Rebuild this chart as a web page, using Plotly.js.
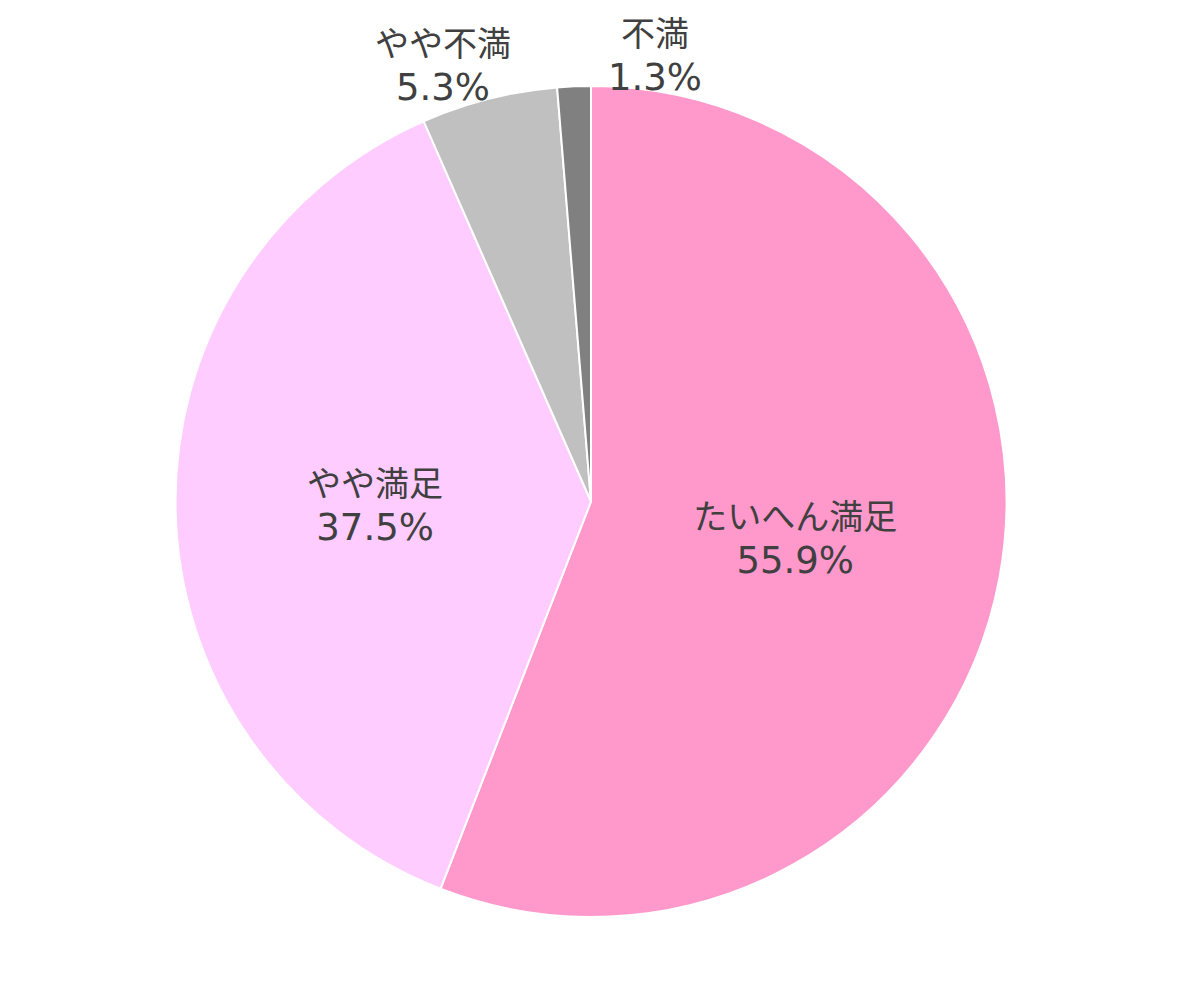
<!DOCTYPE html>
<html>
<head>
<meta charset="utf-8">
<script src="https://cdn.plot.ly/plotly-3.0.1.min.js"></script>
<style>
  html, body { margin: 0; padding: 0; background: #ffffff; }
  #chart { width: 1182px; height: 1005px; }
</style>
</head>
<body>
<div id="chart"></div>
<script>
// Satisfaction survey result (percent of respondents)
const labels = ['たいへん満足', 'やや満足', 'やや不満', '不満'];
const values = [55.9, 37.5, 5.3, 1.3];
const colors = ['#FF99CC', '#FFCCFF', '#C0C0C0', '#808080'];

// Large slices carry their label inside; the two thin ones get a label above the pie
const textPositions = ['inside', 'inside', 'none', 'none'];

const FONT = 'DejaVu Sans, Noto Sans CJK JP, sans-serif';
const TEXT_COLOR = '#404040';
const NAME_SIZE = 34;
const PCT_SIZE = 37;

function labelText(i) {
  return labels[i] + '<br><span style="font-size:' + PCT_SIZE + 'px">' +
    values[i].toFixed(1) + '%</span>';
}

const trace = {
  type: 'pie',
  labels: labels,
  values: values,
  sort: false,
  direction: 'clockwise',
  rotation: 0,
  marker: { colors: colors, line: { color: '#ffffff', width: 2 } },
  texttemplate: '%{label}<br><span style="font-size:' + PCT_SIZE + 'px">%{value:.1f}%</span>',
  textposition: textPositions,
  insidetextorientation: 'horizontal',
  textfont: { family: FONT, size: NAME_SIZE, color: TEXT_COLOR },
  hoverinfo: 'skip',
  showlegend: false
};

// Label anchors (paper coordinates) for the slices labelled outside
const outsideLabels = [
  { idx: 2, x: 0.3704, y: 1.024 },
  { idx: 3, x: 0.556, y: 1.035 }
];

const layout = {
  width: 1182,
  height: 1005,
  margin: { l: 20, r: 20, t: 86, b: 88 },
  paper_bgcolor: '#ffffff',
  plot_bgcolor: '#ffffff',
  font: { family: FONT, color: TEXT_COLOR },
  showlegend: false,
  annotations: outsideLabels.map(o => ({
    xref: 'paper', yref: 'paper',
    x: o.x, y: o.y,
    xanchor: 'center', yanchor: 'middle',
    text: labelText(o.idx),
    showarrow: false,
    font: { family: FONT, size: NAME_SIZE, color: TEXT_COLOR }
  }))
};

Plotly.newPlot('chart', [trace], layout, { displayModeBar: false, staticPlot: true });
</script>
</body>
</html>
